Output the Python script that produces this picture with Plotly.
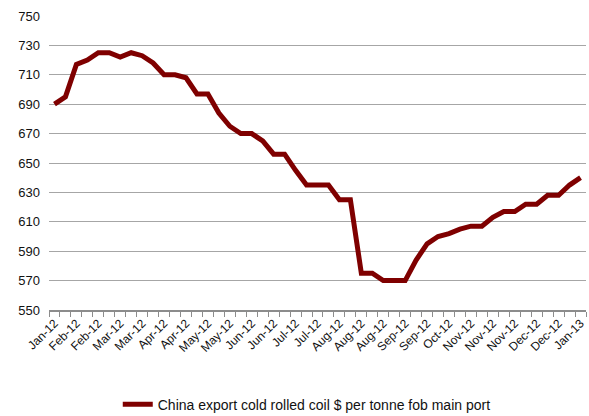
import plotly.graph_objects as go

# Weekly China export price, cold rolled coil ($/tonne, fob main port)
prices = [
    690, 695, 717, 720, 725, 725, 722, 725, 723, 718,
    710, 710, 708, 697, 697, 684, 675, 670, 670, 665,
    656, 656, 645, 635, 635, 635, 625, 625, 575, 575,
    570, 570, 570, 584, 595, 600, 602, 605, 607, 607,
    613, 617, 617, 622, 622, 628, 628, 635, 640,
]

# Axis labels shown on every other week
week_labels = [
    "Jan-12", "Feb-12", "Feb-12", "Mar-12", "Mar-12", "Apr-12", "Apr-12",
    "May-12", "May-12", "Jun-12", "Jun-12", "Jul-12", "Jul-12", "Aug-12",
    "Aug-12", "Aug-12", "Sep-12", "Sep-12", "Oct-12", "Nov-12", "Nov-12",
    "Nov-12", "Dec-12", "Dec-12", "Jan-13",
]

y_ticks = list(range(550, 751, 20))

weeks = list(range(len(prices)))
label_pos = weeks[::2]

font_family = "Liberation Sans, Arial, Helvetica, sans-serif"

fig = go.Figure()
fig.add_trace(go.Scatter(
    x=weeks,
    y=prices,
    mode="lines",
    line=dict(color="#7f0000", width=5),
    name="China export cold rolled coil $ per tonne fob main port",
))

fig.update_layout(
    width=589,
    height=416,
    margin=dict(l=49, r=3, t=16, b=106, autoexpand=False),
    paper_bgcolor="white",
    plot_bgcolor="white",
    font=dict(family=font_family, color="#111111"),
    showlegend=True,
    legend=dict(
        orientation="h",
        x=0.48,
        xanchor="center",
        y=-0.322,
        yanchor="middle",
        font=dict(size=14, family=font_family, color="#111111"),
        itemwidth=30,
    ),
    xaxis=dict(
        range=[-0.5, len(prices) - 0.5],
        tickmode="array",
        tickvals=label_pos,
        ticktext=week_labels,
        tickangle=-45,
        ticks="",
        tickfont=dict(size=12),
        showgrid=False,
        zeroline=False,
        showline=True,
        linecolor="#8c8c8c",
        linewidth=1.5,
        automargin=False,
        minor=dict(
            tick0=0.5,
            dtick=1,
            ticks="outside",
            ticklen=5,
            tickcolor="#8c8c8c",
            tickwidth=1,
            showgrid=False,
        ),
    ),
    yaxis=dict(
        range=[550, 750],
        tickmode="array",
        tickvals=y_ticks,
        ticks="",
        tickfont=dict(size=13),
        showgrid=True,
        gridcolor="#a6a6a6",
        gridwidth=1,
        zeroline=False,
        showline=False,
        automargin=False,
        ticklabelstandoff=8,
    ),
)

fig.write_html("out.html")
